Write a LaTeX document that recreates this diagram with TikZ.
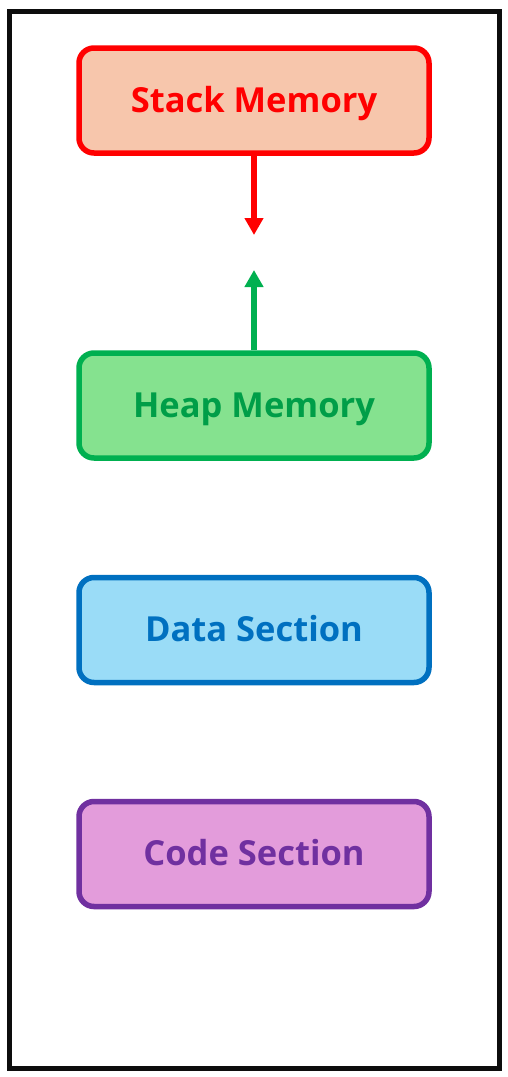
\documentclass[tikz,border=0pt]{standalone}
\usepackage{fontspec}
\setmainfont{Open Sans}
\usetikzlibrary{arrows.meta}
\definecolor{stkfill}{HTML}{F7C6AC}
\definecolor{stkline}{HTML}{FF0000}
\definecolor{hpfill}{HTML}{85E28F}
\definecolor{hpline}{HTML}{00B050}
\definecolor{dtfill}{HTML}{9ADCF7}
\definecolor{dtline}{HTML}{0070C0}
\definecolor{cdfill}{HTML}{E39CDB}
\definecolor{cdline}{HTML}{7030A0}
\tikzset{
  membox/.style={draw, line width=5.5pt, rounded corners=15pt, minimum width=350pt, minimum height=105pt, inner sep=0pt,
    font=\fontsize{34.5}{40}\selectfont\bfseries, text height=23pt, text depth=0pt},
  memarrow/.style={line width=5.5pt, -{Triangle[length=17pt,width=18pt]}}
}
\begin{document}
\begin{tikzpicture}[x=1pt,y=-1pt]
\useasboundingbox (0,0) rectangle (508,1077);
\draw[line width=5pt, black!95] (9,11) rectangle (499,1068);
\node[membox, draw=stkline, fill=stkfill, text=stkline] (stack) at (254,100.5) {Stack Memory};
\node[membox, draw=hpline, fill=hpfill, text=hpline!90!black] (heap) at (254,405.5) {Heap Memory};
\node[membox, draw=dtline, fill=dtfill, text=dtline] (data) at (254,630) {Data Section};
\node[membox, draw=cdline, fill=cdfill, text=cdline] (code) at (254,854) {Code Section};
\coordinate (stacktip) at (254,235);
\coordinate (heaptip) at (254,270);
\draw[memarrow, stkline] (stack.south) -- (stacktip);
\draw[memarrow, hpline] (heap.north) -- (heaptip);
\end{tikzpicture}
\end{document}
